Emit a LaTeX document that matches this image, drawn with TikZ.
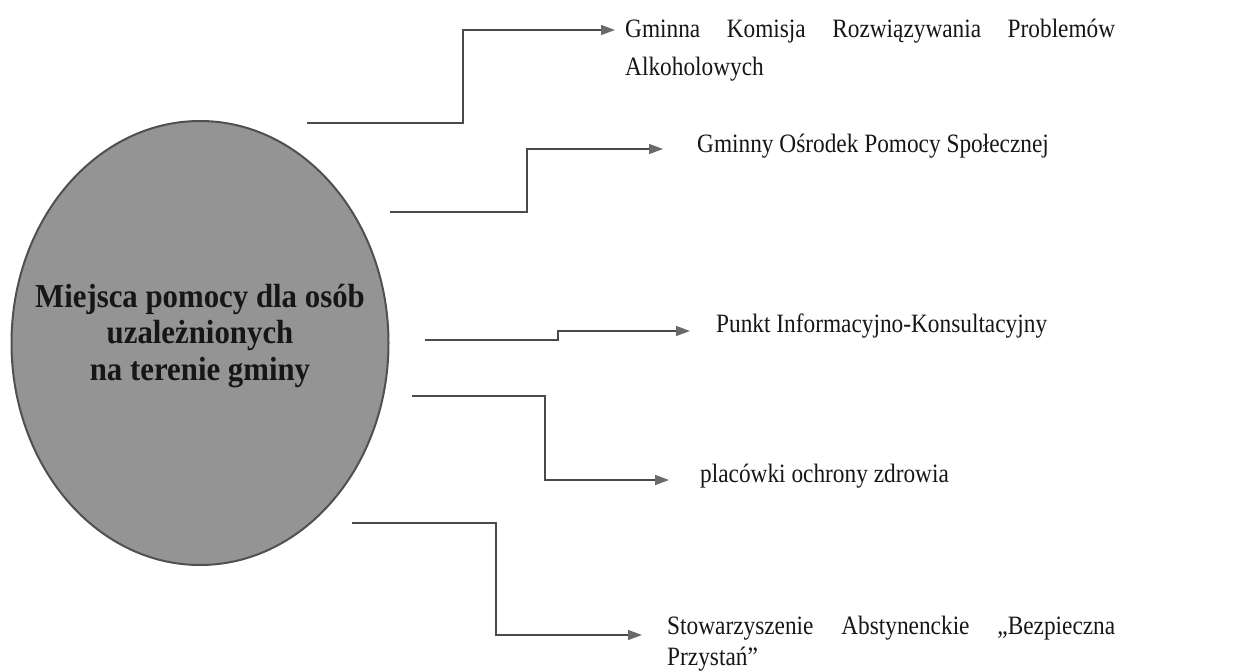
\documentclass[tikz,border=0pt]{standalone}
\usepackage{fontspec}
\setmainfont{Liberation Serif}
\newfontfamily\scanfont[FakeStretch=0.88]{Liberation Serif}
\newfontfamily\scanbold[FakeStretch=0.92]{Liberation Serif Bold}
\usetikzlibrary{arrows.meta,shapes.geometric}
\definecolor{hubfill}{HTML}{949494}
\definecolor{hubedge}{HTML}{505050}
\definecolor{linecol}{HTML}{4a4a4a}
\definecolor{tipcol}{HTML}{6a6a6a}
\definecolor{inkcol}{HTML}{161616}

\begin{document}
\begin{tikzpicture}[
    x=1pt, y=-1pt,
    >={Triangle[length=14pt,width=10pt,color=tipcol]},
    hub/.style={
        ellipse,
        draw=hubedge,
        line width=2pt,
        fill=hubfill,
        minimum width=377pt,
        minimum height=444pt,
        inner sep=0pt,
    },
    hubtext/.style={
        align=center,
        text=inkcol,
        font=\scanbold\fontsize{33.5}{36.5}\selectfont,
    },
    target/.style={
        anchor=base west,
        inner sep=0pt,
        text=inkcol,
        font=\scanfont\fontsize{26.5}{38}\selectfont,
    },
    link/.style={->,line width=1.3pt,draw=linecol},
]

\useasboundingbox (0,0) rectangle (1236,670);

% === Central ellipse ===
\node[hub] (hub) at (200,343) {};
\node[hubtext] (hubtxt) at (200,336) {Miejsca pomocy dla osób\\uzależnionych\\na terenie gminy};

% === Places of help ===
\node[target,text width=490pt,align=justify] (gkrpa) at (625,37.5)
    {Gminna Komisja Rozwiązywania Problemów\linebreak Alkoholowych};
\node[target] (gops) at (697,152.5) {Gminny Ośrodek Pomocy Społecznej};
\node[target] (pik) at (716,332.5) {Punkt Informacyjno-Konsultacyjny};
\node[target] (zdrowie) at (700,482.5) {placówki ochrony zdrowia};
\node[target,text width=448pt,align=justify,font=\scanfont\fontsize{26.5}{31}\selectfont] (stow) at (667,634)
    {Stowarzyszenie Abstynenckie „Bezpieczna\linebreak Przystań”};

% === Loose ends of the connectors ===
\coordinate (s1) at (307,123);
\coordinate (s2) at (390,212);
\coordinate (s3) at (425,340);
\coordinate (s4) at (412,396);
\coordinate (s5) at (352,523);

% === Connectors ===
\draw[link,shorten >=10pt] (s1) -- ++(156,0) |- ([yshift=7.5pt]gkrpa.base west);
\draw[link,shorten >=34pt] (s2) -- ++(137,0) |- ([yshift=3.5pt]gops.base west);
\draw[link,shorten >=26pt] (s3) -- ++(133,0) |- ([yshift=1.5pt]pik.base west);
\draw[link,shorten >=31pt] (s4) -- ++(133,0) |- ([yshift=2.5pt]zdrowie.base west);
\draw[link,shorten >=25pt] (s5) -- ++(144,0) |- ([yshift=-1pt]stow.base west);

\end{tikzpicture}
\end{document}
